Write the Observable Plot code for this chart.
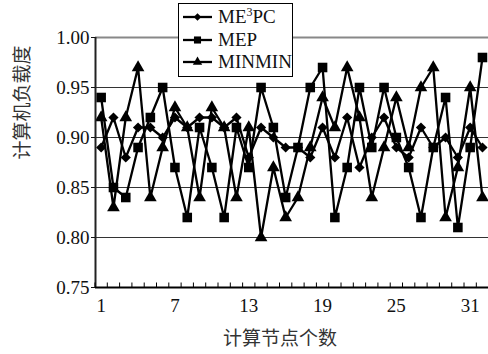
<!DOCTYPE html>
<html>
<head>
<meta charset="utf-8">
<script src="https://cdn.jsdelivr.net/npm/d3@7"></script>
<script src="https://cdn.jsdelivr.net/npm/@observablehq/plot@0.6"></script>
<style>
  html, body { margin: 0; padding: 0; background: #fff; }
  #wrap { position: relative; width: 488px; height: 354px; overflow: hidden; }
  #legend { position: absolute; left: 178px; top: 3px; width: 115px; height: 74px;
            border: 1.5px solid #000; background: #fff; box-sizing: border-box; }
  #legend .row { position: absolute; left: 0; height: 22px; display: flex; align-items: center; }
  #legend .lab { font-family: "Liberation Serif", serif; font-size: 19px; color: #111; margin-left: 3px; line-height: 20px; }
</style>
</head>
<body>
<div id="wrap"></div>
<script>
// ---- data ----
const nodes = [1,2,3,4,5,6,7,8,9,10,11,12,13,14,15,16,17,18,19,20,21,22,23,24,25,26,27,28,29,30,31,32];
const seriesNames = ["ME³PC", "MEP", "MINMIN"];
const me3pc  = [0.89,0.92,0.88,0.91,0.91,0.90,0.92,0.91,0.92,0.92,0.91,0.92,0.88,0.91,0.90,0.89,0.89,0.88,0.91,0.88,0.92,0.87,0.90,0.92,0.89,0.88,0.91,0.89,0.90,0.88,0.91,0.89];
const mep    = [0.94,0.85,0.84,0.89,0.92,0.95,0.87,0.82,0.91,0.87,0.82,0.91,0.87,0.95,0.91,0.84,0.89,0.95,0.97,0.82,0.87,0.95,0.89,0.95,0.90,0.87,0.82,0.89,0.94,0.81,0.89,0.98];
const minmin = [0.92,0.83,0.92,0.97,0.84,0.89,0.93,0.91,0.84,0.93,0.91,0.84,0.91,0.80,0.87,0.82,0.84,0.89,0.94,0.91,0.97,0.92,0.84,0.89,0.94,0.89,0.95,0.97,0.82,0.87,0.95,0.84];
const xTickLabels = [1, 7, 13, 19, 25, 31];
const yTicks = [0.75, 0.80, 0.85, 0.90, 0.95, 1.00];
const yTitle = "计算机负载度";
const xTitle = "计算节点个数";

const valuesBySeries = [me3pc, mep, minmin];
const symbols = ["diamond2", "square", "triangle"];
const radii = [4.6, 5.4, 4.7];
const data = seriesNames.flatMap((s, i) => nodes.map((n, j) => ({series: s, x: n, y: valuesBySeries[i][j]})));
const minorTicks = nodes.map(n => n + 0.5).concat([0.5]);

const serif = "'Liberation Serif', 'Times New Roman', serif";
const cjk = "'Noto Sans CJK SC', sans-serif";

const chart = Plot.plot({
  width: 488, height: 354,
  marginLeft: 95, marginRight: 0, marginTop: 37, marginBottom: 67,
  style: {fontFamily: serif, fontSize: "19px", color: "#111", background: "#fff", overflow: "visible"},
  x: {domain: [0.54, 32.49], label: null},
  y: {domain: [0.75, 1.0], label: null},
  marks: [
    Plot.ruleY(yTicks.filter(v => v > 0.75 && v < 1), {stroke: "#333", strokeWidth: 1}),
    Plot.ruleY([1.0], {stroke: "#888", strokeWidth: 2}),
    Plot.line(data, {x: "x", y: "y", z: "series", stroke: "#000", strokeWidth: 2.3}),
    ...seriesNames.map((s, i) => Plot.dot(data.filter(d => d.series === s),
        {x: "x", y: "y", symbol: () => symbols[i], fill: "#000", stroke: "none", r: radii[i]})),
    Plot.ruleX([0.54], {stroke: "#222", strokeWidth: 2}),
    Plot.ruleY([0.75], {stroke: "#000", strokeWidth: 2}),
    Plot.ruleX(minorTicks, {y1: 0.75, y2: 0.7545, stroke: "#000", strokeWidth: 1}),
    Plot.axisY({ticks: yTicks, tickFormat: d3.format(".2f"), tickSize: 4, tickPadding: 2, fontSize: 19, fontFamily: serif, label: null}),
    Plot.axisX({ticks: xTickLabels, tickSize: 0, tickPadding: 11, fontSize: 19, fontFamily: serif, label: null}),
    Plot.text([yTitle], {frameAnchor: "left", dx: -73, dy: -3, rotate: -90, fontSize: 19, fontFamily: cjk, fill: "#333"}),
    Plot.text([xTitle], {frameAnchor: "bottom", dx: -12, dy: 57, fontSize: 19, fontFamily: cjk, fill: "#333"})
  ]
});

const wrap = document.getElementById("wrap");
wrap.appendChild(chart);

// legend
const legend = document.createElement("div");
legend.id = "legend";
wrap.appendChild(legend);
const symTypes = [d3.symbolDiamond2, d3.symbolSquare, d3.symbolTriangle];
seriesNames.forEach((s, i) => {
  const row = document.createElement("div");
  row.className = "row";
  row.style.top = (2 + i * 22.5) + "px";
  const svg = d3.create("svg").attr("width", 36).attr("height", 22);
  svg.append("line").attr("x1", 4).attr("x2", 33).attr("y1", 11).attr("y2", 11)
     .attr("stroke", "#000").attr("stroke-width", 2.3);
  svg.append("path").attr("transform", "translate(18.5,11)")
     .attr("d", d3.symbol(symTypes[i], Math.PI * radii[i] * radii[i] * 0.55)())
     .attr("fill", "#000");
  row.appendChild(svg.node());
  const lab = document.createElement("span");
  lab.className = "lab";
  if (s === "ME³PC") { lab.innerHTML = "ME<sup style='font-size:12px;vertical-align:7px;line-height:0'>3</sup>PC"; }
  else lab.textContent = s;
  row.appendChild(lab);
  legend.appendChild(row);
});
</script>
</body>
</html>
